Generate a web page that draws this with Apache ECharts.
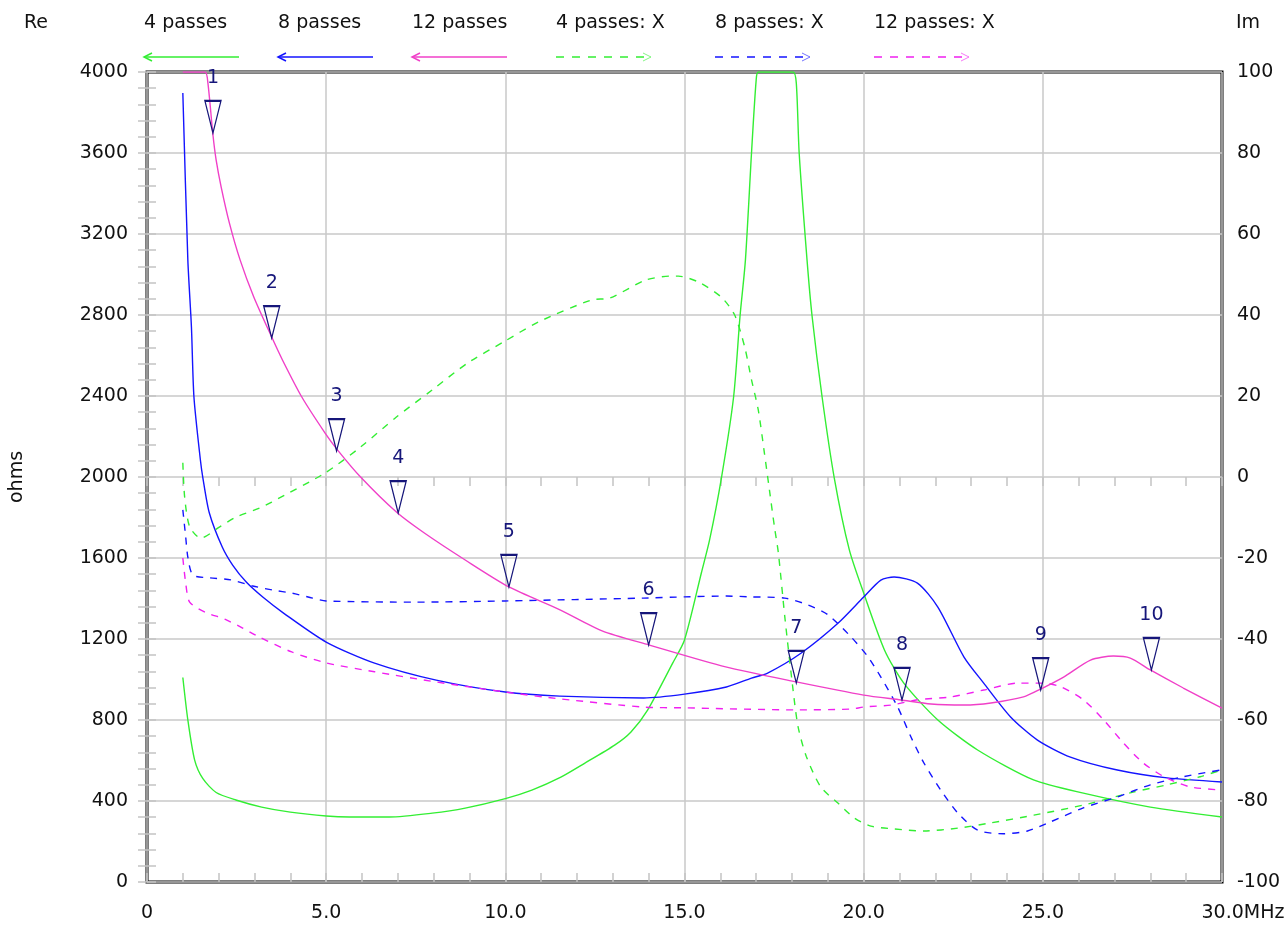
<!DOCTYPE html>
<html lang="en">
<head>
    <meta charset="UTF-8">
    <title>passes</title>
    <script src="https://cdn.jsdelivr.net/npm/echarts@6/dist/echarts.min.js"></script>
    <style>
        * {
            margin: 0;
            padding: 0;
        }
        body {
            background-color: #fff;
            overflow: hidden;
        }
        #main {
            width: 1288px;
            height: 929px;
        }
    </style>
</head>
<body>
<div id="main"></div>
<script type="text/javascript">

    // frequency (MHz) / value pairs, one pair of arrays per curve
    var re4Freq = [1.0, 1.14, 1.33, 1.56, 1.93, 2.48, 3.2, 4.0, 5.0, 5.65, 6.76, 7.96, 8.88, 10.0, 10.74, 11.55, 12.2, 13.05, 13.5, 13.97, 14.67, 15.0, 15.47, 15.7, 16.03, 16.37, 16.55, 16.7, 16.87, 17.0, 17.06, 18.03, 18.12, 18.2, 18.42, 18.56, 18.84, 19.18, 19.6, 20.0, 20.58, 21.12, 22.07, 23.18, 24.74, 26.1, 28.0, 30.0];
    var re4 = [1010, 800, 602, 510, 442, 405, 370, 345, 326, 321, 321, 340, 365, 412, 454, 518, 585, 676, 740, 849, 1081, 1195, 1526, 1689, 1995, 2395, 2795, 3071, 3600, 3960, 4000, 4000, 3945, 3600, 3071, 2795, 2395, 1995, 1640, 1427, 1146, 982, 800, 652, 504, 440, 370, 321];

    var re8Freq = [1.0, 1.14, 1.24, 1.31, 1.49, 1.56, 1.74, 2.1, 2.39, 2.77, 3.23, 3.81, 5.0, 6.35, 8.07, 10.0, 11.52, 13.86, 15.0, 16.17, 16.87, 17.32, 18.26, 19.29, 20.0, 20.48, 20.85, 21.5, 22.07, 22.8, 23.35, 24.1, 24.85, 25.77, 27.08, 28.47, 30.0];
    var re8 = [3896, 3071, 2741, 2395, 2084, 1995, 1822, 1654, 1565, 1481, 1407, 1328, 1185, 1081, 997, 938, 918, 909, 928, 963, 1007, 1032, 1131, 1279, 1407, 1491, 1506, 1476, 1358, 1111, 982, 815, 701, 617, 553, 514, 494];

    var re12Freq = [1.0, 1.62, 1.7, 1.84, 1.93, 2.07, 2.3, 2.6, 2.98, 3.48, 3.78, 4.32, 4.97, 5.32, 5.96, 6.96, 7.75, 8.88, 10.1, 11.54, 12.7, 14.02, 16.15, 18.12, 20.0, 21.04, 21.88, 22.8, 23.55, 24.46, 24.94, 25.58, 26.33, 26.97, 27.44, 28.0, 28.92, 30.0];
    var re12 = [4000, 4000, 3945, 3690, 3565, 3432, 3254, 3071, 2889, 2691, 2578, 2395, 2217, 2133, 2000, 1827, 1722, 1590, 1457, 1343, 1240, 1170, 1062, 988, 923, 899, 879, 874, 884, 914, 953, 1012, 1096, 1116, 1106, 1047, 958, 859];

    var x4Freq = [1.0, 1.05, 1.19, 1.5, 2.03, 2.48, 3.14, 3.48, 4.97, 5.96, 6.96, 7.96, 8.94, 9.94, 10.93, 12.4, 12.92, 13.91, 14.6, 14.83, 15.4, 16.03, 16.4, 16.68, 16.87, 17.06, 17.23, 17.37, 17.51, 17.62, 17.8, 18.03, 18.17, 18.4, 18.8, 19.28, 19.74, 20.2, 20.85, 21.68, 22.63, 23.55, 24.75, 26.13, 27.52, 28.47, 29.39, 30.0];
    var x4 = [3.5, -4.9, -12.3, -15.1, -12.3, -9.9, -7.7, -6.2, 1.0, 7.4, 14.8, 21.5, 28.1, 33.3, 38.3, 43.7, 44.2, 48.6, 49.6, 49.6, 48.1, 44.4, 40, 32.1, 24, 16.5, 5.9, -3.2, -12.3, -18.8, -34.6, -52.6, -61.7, -69, -76.5, -80.5, -84.2, -86.2, -86.9, -87.4, -86.7, -85.4, -83.5, -81, -77.8, -76, -74, -72.3];

    var x8Freq = [1.0, 1.08, 1.14, 1.28, 1.75, 2.34, 2.95, 3.5, 4.06, 4.62, 5.0, 7.5, 10.0, 13.86, 15.0, 16.17, 16.87, 17.8, 18.45, 19.0, 19.65, 20.12, 20.48, 20.95, 21.32, 21.68, 22.15, 22.63, 23.18, 23.9, 24.57, 25.2, 26.13, 27.08, 28.0, 28.92, 30.0];
    var x8 = [-8.1, -14.8, -19.8, -24.2, -24.9, -25.4, -26.9, -27.9, -28.7, -29.9, -30.6, -30.9, -30.6, -29.9, -29.6, -29.4, -29.6, -29.9, -31.6, -34, -39.5, -44.4, -49.4, -56.8, -64.2, -70.6, -77.3, -83, -87.2, -88.1, -87.4, -85.2, -81.7, -79, -76, -74, -72.3];

    var x12Freq = [1.0, 1.08, 1.19, 1.63, 2.17, 2.67, 3.13, 4.04, 5.0, 6.35, 8.07, 10.0, 11.55, 13.85, 15.0, 18.1, 19.65, 20.0, 20.77, 21.5, 22.43, 23.35, 24.3, 25.02, 25.5, 26.13, 26.7, 27.25, 27.8, 28.38, 29.1, 30.0];
    var x12 = [-20, -26.2, -30.9, -33.4, -35.1, -37.3, -39.5, -43.2, -45.9, -48.1, -50.6, -53.1, -54.8, -56.8, -57, -57.5, -57.3, -56.8, -56.3, -55, -54.3, -52.6, -50.9, -50.9, -51.8, -55, -60, -65.7, -70.6, -74, -76.5, -77.3];

    // markers sit on the 12 passes resistance curve
    var markerFreq = [1.84, 3.48, 5.29, 7.01, 10.1, 14.0, 18.12, 21.07, 24.94, 28.03];
    var markerRe = [3699, 2686, 2128, 1822, 1457, 1170, 983, 899, 948, 1047];

    var seriesNames = ['4 passes', '8 passes', '12 passes', '4 passes: X', '8 passes: X', '12 passes: X'];
    var seriesColors = ['#33ee33', '#1414ff', '#f040c8', '#33ee33', '#1414ff', '#f020f0'];

    var FONT = 'DejaVu Sans';
    var NAVY = '#16167a';

    function pairs(xs, ys) {
        var out = [];
        for (var i = 0; i < xs.length; i++) out.push([xs[i], ys[i]]);
        return out;
    }

    var markerData = [];
    for (var i = 0; i < markerFreq.length; i++) {
        markerData.push({name: String(i + 1), coord: [markerFreq[i], markerRe[i]]});
    }

    //图例：文字在上，线在下
    var legendX = [144, 278, 412, 556, 715, 874];
    var legendGraphic = [];
    seriesNames.forEach(function (name, k) {
        var x0 = legendX[k], x1 = x0 + 95, dashed = k >= 3;
        legendGraphic.push({
            type: 'text', left: x0, top: 14,
            style: {text: name, font: '19px "' + FONT + '"', fill: '#111'}
        });
        legendGraphic.push({
            type: 'line', shape: {x1: x0, y1: 57, x2: x1, y2: 57},
            style: {stroke: seriesColors[k], lineWidth: 1.5, lineDash: dashed ? [8, 8] : null}
        });
        if (dashed) {
            legendGraphic.push({
                type: 'polyline', shape: {points: [[x1 - 8, 53], [x1, 57], [x1 - 8, 61]]},
                style: {stroke: seriesColors[k], lineWidth: 1, opacity: 0.6, fill: null}
            });
        } else {
            legendGraphic.push({
                type: 'polyline', shape: {points: [[x0 + 8, 53], [x0, 57], [x0 + 8, 61]]},
                style: {stroke: seriesColors[k], lineWidth: 1.5, fill: null}
            });
        }
    });
    legendGraphic.push({type: 'text', left: 24, top: 14, style: {text: 'Re', font: '19px "' + FONT + '"', fill: '#111'}});
    legendGraphic.push({type: 'text', left: 1236, top: 14, style: {text: 'Im', font: '19px "' + FONT + '"', fill: '#111'}});

    var tickStyle = {color: '#c4c4c4', width: 1.5};

    function lineSeries(k, data, yIndex) {
        return {
            name: seriesNames[k],
            type: 'line',
            yAxisIndex: yIndex,
            data: data,
            showSymbol: false,
            smooth: 0.25,
            clip: true,
            lineStyle: {color: seriesColors[k], width: 1.4, type: k >= 3 ? [7, 7] : 'solid'},
            itemStyle: {color: seriesColors[k]}
        };
    }

    function plain(v) {
        return String(v);
    }

    var myChart = echarts.init(document.getElementById('main'));
    var option = {
        animation: false,
        backgroundColor: '#fff',
        grid: {
            left: 144, right: 66, top: 72, bottom: 47,
            show: true, borderColor: '#000', borderWidth: 3
        },
        graphic: legendGraphic,
        xAxis: [{
            type: 'value', min: 0, max: 30, interval: 5,
            axisLine: {show: false},
            axisTick: {show: true, inside: true, length: 9, lineStyle: tickStyle},
            minorTick: {show: true, splitNumber: 5, length: 9, lineStyle: tickStyle},
            splitLine: {show: true, lineStyle: {color: '#c8c8c8', width: 1.5}},
            axisLabel: {
                margin: 22,
                color: '#111', fontSize: 19, fontFamily: FONT,
                formatter: function (v) {
                    if (v === 0) return '0';
                    if (v === 30) return '{s|}{a|30.0}{b|MHz}';
                    return v.toFixed(1);
                },
                rich: {
                    s: {width: 42},
                    a: {fontSize: 19, fontFamily: FONT, color: '#111'},
                    b: {fontSize: 19, fontFamily: FONT, color: '#111'}
                }
            }
        }, {
            type: 'value', min: 0, max: 30, interval: 5, position: 'top',
            axisLine: {show: false},
            axisTick: {show: true, inside: true, length: 9, lineStyle: tickStyle},
            minorTick: {show: true, splitNumber: 5, length: 9, lineStyle: tickStyle},
            splitLine: {show: false},
            axisLabel: {show: false}
        }],
        yAxis: [{
            type: 'value', min: 0, max: 4000, interval: 400,
            name: 'ohms', nameLocation: 'middle', nameGap: 120,
            nameTextStyle: {color: '#111', fontSize: 19, fontFamily: FONT},
            axisLine: {show: false},
            axisTick: {show: true, inside: true, length: 9, lineStyle: tickStyle},
            minorTick: {show: true, splitNumber: 5, length: 9, lineStyle: tickStyle},
            splitLine: {show: true, lineStyle: {color: '#c8c8c8', width: 1.5}},
            axisLabel: {margin: 19, color: '#111', fontSize: 19, fontFamily: FONT, formatter: plain}
        }, {
            type: 'value', min: -100, max: 100, interval: 20, position: 'right',
            axisLine: {show: false},
            axisTick: {show: true, inside: true, length: 9, lineStyle: tickStyle},
            minorTick: {show: true, splitNumber: 5, length: 9, lineStyle: tickStyle},
            splitLine: {show: false},
            axisLabel: {margin: 15, color: '#111', fontSize: 19, fontFamily: FONT, formatter: plain}
        }],
        series: [
            lineSeries(0, pairs(re4Freq, re4), 0),
            lineSeries(1, pairs(re8Freq, re8), 0),
            lineSeries(3, pairs(x4Freq, x4), 1),
            lineSeries(4, pairs(x8Freq, x8), 1),
            lineSeries(5, pairs(x12Freq, x12), 1),
            Object.assign(lineSeries(2, pairs(re12Freq, re12), 0), {
                markPoint: {
                    symbol: 'path://M0,0 L16,0 L8,32 Z',
                    symbolSize: [16, 32],
                    symbolOffset: [0, '-50%'],
                    itemStyle: {color: 'rgba(0,0,0,0)', borderColor: NAVY, borderWidth: 1.6},
                    label: {
                        show: true, position: 'top', distance: 12,
                        formatter: '{b}', color: NAVY, fontSize: 19, fontFamily: FONT
                    },
                    data: markerData
                }
            })
        ]
    };
    myChart.setOption(option);
</script>
</body>
</html>
